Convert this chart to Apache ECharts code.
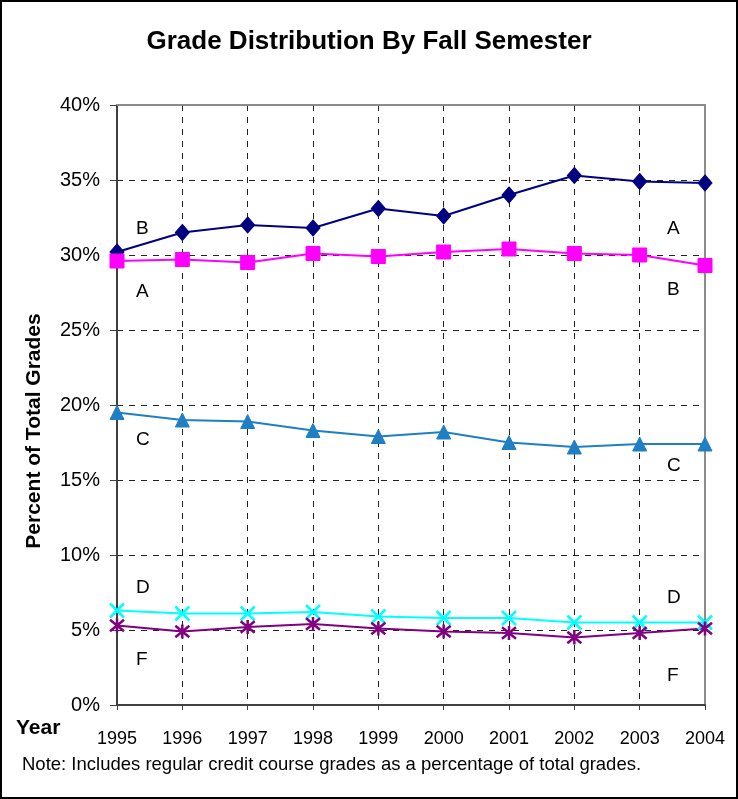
<!DOCTYPE html>
<html>
<head>
<meta charset="utf-8">
<title>Grade Distribution By Fall Semester</title>
<script src="https://cdn.jsdelivr.net/npm/echarts@6.0.0/dist/echarts.min.js"></script>
<style>
  html, body { margin: 0; padding: 0; background: #fff; }
  #chart { width: 738px; height: 799px; }
</style>
</head>
<body>
<div id="chart"></div>
<script>
// years on the x axis
var years = ['1995', '1996', '1997', '1998', '1999', '2000', '2001', '2002', '2003', '2004']
// percent of total grades
var gradeB = [30.2, 31.5, 32.0, 31.8, 33.1, 32.6, 34.0, 35.3, 34.9, 34.8]
var gradeA = [29.6, 29.7, 29.5, 30.1, 29.9, 30.2, 30.4, 30.1, 30.0, 29.3]
var gradeC = [19.5, 19.0, 18.9, 18.3, 17.9, 18.2, 17.5, 17.2, 17.4, 17.4]
var gradeD = [6.3, 6.1, 6.1, 6.2, 5.9, 5.8, 5.8, 5.5, 5.5, 5.5]
var gradeF = [5.3, 4.9, 5.2, 5.4, 5.1, 4.9, 4.8, 4.5, 4.8, 5.1]
var yTicks = [0, 5, 10, 15, 20, 25, 30, 35, 40]

var font = 'Liberation Sans, Arial, sans-serif'
var crossSymbol = 'path://M0,0L10,10M10,0L0,10'
var starSymbol = 'path://M0,0L10,10M10,0L0,10M5,-1L5,11'

function line(name, data, color, symbol, size, stroke) {
  return {
    name: name,
    type: 'line',
    data: data,
    symbol: symbol,
    symbolSize: size,
    lineStyle: { color: color, width: 2 },
    itemStyle: stroke
      ? { color: 'none', borderColor: color, borderWidth: 2.5 }
      : { color: color, borderColor: color },
    emphasis: { disabled: true },
    animation: false
  }
}

// the letters sitting next to the lines
function tag(text, x, y) {
  return {
    type: 'text',
    left: x,
    top: y,
    style: { text: text, font: '19px ' + font, fill: '#000' }
  }
}

var chart = echarts.init(document.getElementById('chart'))
chart.setOption({
  backgroundColor: '#fff',
  animation: false,
  title: {
    text: 'Grade Distribution By Fall Semester',
    left: 'center',
    top: 24,
    textStyle: { fontFamily: font, fontSize: 26, fontWeight: 'bold', color: '#000' }
  },
  grid: { left: 117, right: 33, top: 105, bottom: 94, containLabel: false },
  xAxis: [{
    type: 'category',
    boundaryGap: false,
    data: years,
    axisLine: { lineStyle: { color: '#404040', width: 2 } },
    axisTick: { show: true, length: 5, lineStyle: { color: '#404040' } },
    axisLabel: { fontFamily: font, fontSize: 18, color: '#000', margin: 25 },
    splitLine: { show: true, lineStyle: { color: '#222', type: [6, 6], width: 1 } }
  }, {
    type: 'category',
    position: 'top',
    boundaryGap: false,
    data: years,
    axisLine: { onZero: false, lineStyle: { color: '#8c8c8c', width: 2 } },
    axisTick: { show: false },
    axisLabel: { show: false },
    splitLine: { show: false }
  }],
  yAxis: [{
    type: 'value',
    min: yTicks[0],
    max: yTicks[yTicks.length - 1],
    interval: 5,
    axisLine: { show: true, onZero: false, lineStyle: { color: '#404040', width: 2 } },
    axisTick: { show: true, length: 7, lineStyle: { color: '#404040' } },
    axisLabel: { fontFamily: font, fontSize: 20, color: '#000', margin: 17, formatter: '{value}%' },
    splitLine: { show: true, lineStyle: { color: '#222', type: [6, 6], width: 1 } }
  }, {
    type: 'value',
    position: 'right',
    min: yTicks[0],
    max: yTicks[yTicks.length - 1],
    interval: 5,
    axisLine: { show: true, onZero: false, lineStyle: { color: '#8c8c8c', width: 2 } },
    axisTick: { show: false },
    axisLabel: { show: false },
    splitLine: { show: false }
  }],
  series: [
    line('B', gradeB, '#000080', 'diamond', [14, 16], false),
    line('A', gradeA, '#ff00ff', 'rect', 14, false),
    line('C', gradeC, '#1f7fc4', 'triangle', 14, false),
    line('D', gradeD, '#00ffff', crossSymbol, 14, true),
    line('F', gradeF, '#800080', starSymbol, 14, true)
  ],
  graphic: [
    {
      type: 'rect',
      shape: { x: 1, y: 1, width: 736, height: 797 },
      style: { fill: 'none', stroke: '#000', lineWidth: 2 },
      silent: true
    },
    tag('B', 136, 219), tag('A', 136, 282),
    tag('A', 667, 219), tag('B', 667, 280),
    tag('C', 136, 430), tag('C', 667, 456),
    tag('D', 136, 578), tag('D', 667, 588),
    tag('F', 136, 650), tag('F', 667, 666),
    {
      type: 'text',
      x: 34,
      y: 431,
      rotation: Math.PI / 2,
      style: {
        text: 'Percent of Total Grades',
        font: 'bold 21px ' + font,
        fill: '#000',
        align: 'center',
        verticalAlign: 'middle'
      }
    },
    {
      type: 'text',
      left: 16,
      top: 718,
      style: { text: 'Year', font: 'bold 21px ' + font, fill: '#000' }
    },
    {
      type: 'text',
      left: 22,
      top: 755,
      style: {
        text: 'Note: Includes regular credit course grades as a percentage of total grades.',
        font: '18.5px ' + font,
        fill: '#000'
      }
    }
  ]
})
</script>
</body>
</html>
